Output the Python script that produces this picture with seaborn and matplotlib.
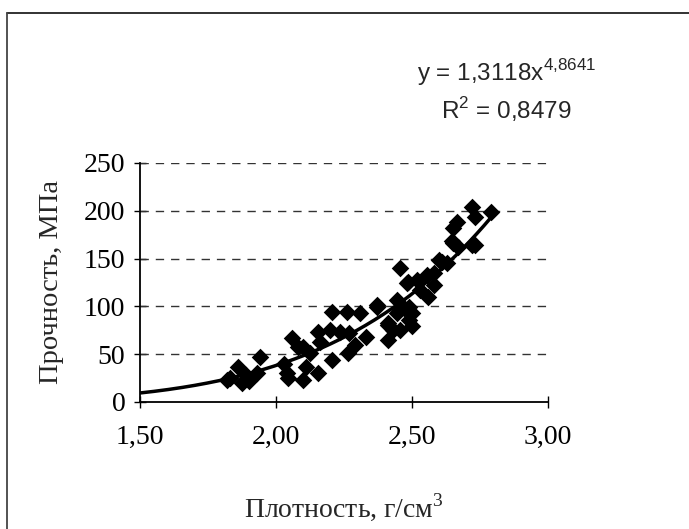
import matplotlib

matplotlib.use("Agg")
import matplotlib.pyplot as plt
import numpy as np
import pandas as pd
import seaborn as sns
from matplotlib.lines import Line2D

# density (g/cm3) and strength (MPa)
density = [1.82, 1.83, 1.86, 1.875, 1.89, 1.90, 1.93, 1.94,
           2.03, 2.04, 2.045, 2.06, 2.08, 2.10, 2.10, 2.11, 2.125, 2.155, 2.155, 2.16,
           2.20, 2.206, 2.206, 2.235, 2.26, 2.265, 2.27, 2.29, 2.31, 2.33,
           2.37, 2.37, 2.41, 2.41, 2.41, 2.43, 2.445, 2.445, 2.455, 2.456,
           2.47, 2.48, 2.485, 2.49, 2.49, 2.50, 2.50, 2.52, 2.53, 2.555,
           2.56, 2.58, 2.58, 2.60, 2.61, 2.63, 2.647, 2.65, 2.65, 2.665,
           2.67, 2.72, 2.72, 2.73, 2.73, 2.79]
strength = [23, 25, 37, 20, 28, 22, 30, 47,
            40, 30, 25, 67, 58, 57, 23, 37, 51, 30, 73, 63,
            75, 94, 44, 73, 94, 51, 72, 60, 93, 68,
            99, 101, 81, 65, 83, 75, 107, 93, 75, 140,
            98, 124, 126, 99, 86, 93, 79, 128, 117, 133,
            110, 135, 122, 148, 146, 145, 168, 166, 182, 188,
            162, 204, 164, 194, 164, 199]

# power trendline coefficients as printed on the chart
coef_a = 1.3118
coef_b = 4.8641
r_squared = "0,8479"

x_ticks = [1.5, 2.0, 2.5, 3.0]
x_ticklabels = ["1,50", "2,00", "2,50", "3,00"]
y_ticks = [0, 50, 100, 150, 200, 250]

df = pd.DataFrame({"x": density, "y": strength})
x_fit = np.linspace(1.5, max(density), 200)
trend = pd.DataFrame({"x": x_fit, "y": coef_a * x_fit ** coef_b})

sns.set_style("white")
plt.rcParams["font.family"] = ["Liberation Serif", "DejaVu Serif"]

fig = plt.figure(figsize=(6.89, 5.29), dpi=100)
ax = fig.add_axes([0.2032, 0.2401, 0.5922, 0.4518])

sns.scatterplot(data=df, x="x", y="y", marker="D", color="black", s=80,
                edgecolor="black", linewidth=0, ax=ax, zorder=3)
sns.lineplot(data=trend, x="x", y="y", color="black", linewidth=2.5, ax=ax, zorder=4)

ax.set_xlim(1.5, 3.0)
ax.set_ylim(0, 250)
ax.set_xticks(x_ticks)
ax.set_xticklabels(x_ticklabels)
ax.set_yticks(y_ticks)
for v in y_ticks[1:]:
    ax.axhline(v, color="#333333", linestyle=(0, (6, 5)), linewidth=1, zorder=1)

for side in ["top", "right"]:
    ax.spines[side].set_visible(False)
for side in ["left", "bottom"]:
    ax.spines[side].set_color("black")
    ax.spines[side].set_linewidth(1.3)

ax.tick_params(axis="both", direction="inout", length=9, width=1, colors="black",
               labelsize=20, left=True, bottom=True)
ax.tick_params(axis="x", pad=12)
ax.tick_params(axis="y", pad=6)

ax.set_xlabel("Плотность, г/см$^{\\mathregular{3}}$", fontsize=20, labelpad=30)
ax.set_ylabel("Прочность, МПа", fontsize=20.5, labelpad=14)

eq_font = ["Liberation Sans", "DejaVu Sans"]
fig.text(0.735, 0.862, "y = 1,3118x$^{\\mathregular{4{,}8641}}$",
         ha="center", va="center", fontsize=17.5, family=eq_font)
fig.text(0.735, 0.792, "R$^{\\mathregular{2}}$ = " + r_squared,
         ha="center", va="center", fontsize=17.5, family=eq_font)

# chart-area frame (only top and left edges fall inside the image)
fig.add_artist(Line2D([0.0102, 1.0], [0.9754, 0.9754], color="#222222", linewidth=1.3))
fig.add_artist(Line2D([0.0102, 0.0102], [0.0, 0.9754], color="#444444", linewidth=1.3))

fig.savefig("out.png", dpi=100)
plt.close(fig)
